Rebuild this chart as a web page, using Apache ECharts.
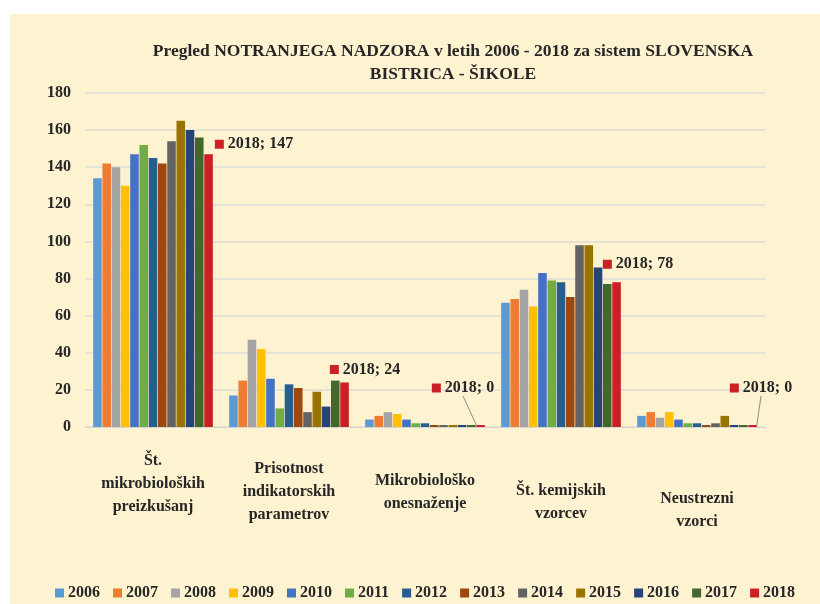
<!DOCTYPE html>
<html>
<head>
<meta charset="utf-8">
<script src="https://cdn.jsdelivr.net/npm/echarts@6/dist/echarts.min.js"></script>
<style>
  html, body { margin: 0; padding: 0; background: #fff; }
  #chart { width: 820px; height: 604px; }
</style>
</head>
<body>
<div id="chart"></div>
<script>
// categories (x axis)
const categories = [
  'Št.\nmikrobioloških\npreizkušanj',
  'Prisotnost\nindikatorskih\nparametrov',
  'Mikrobiološko\nonesnaženje',
  'Št. kemijskih\nvzorcev',
  'Neustrezni\nvzorci'
];

const years = ['2006', '2007', '2008', '2009', '2010', '2011', '2012',
  '2013', '2014', '2015', '2016', '2017', '2018'];

// values per year, one per category
const v2006 = [134, 17, 4, 67, 6];
const v2007 = [142, 25, 6, 69, 8];
const v2008 = [140, 47, 8, 74, 5];
const v2009 = [130, 42, 7, 65, 8];
const v2010 = [147, 26, 4, 83, 4];
const v2011 = [152, 10, 2, 79, 2];
const v2012 = [145, 23, 2, 78, 2];
const v2013 = [142, 21, 1, 70, 1];
const v2014 = [154, 8, 1, 98, 2];
const v2015 = [165, 19, 1, 98, 6];
const v2016 = [160, 11, 1, 86, 1];
const v2017 = [156, 25, 1, 77, 1];
const v2018 = [147, 24, 0, 78, 0];

const yearValues = [v2006, v2007, v2008, v2009, v2010, v2011, v2012,
  v2013, v2014, v2015, v2016, v2017, v2018];

const colors = ['#5B9BD5', '#ED7D31', '#A5A5A5', '#FFC000', '#4472C4', '#70AD47',
  '#255E91', '#9E480E', '#636363', '#997300', '#264478', '#43682B', '#CC1F26'];

const serif = '"Liberation Serif", "DejaVu Serif", serif';
const textColor = '#262626';

// label placement for the 2018 data labels, relative to the bar's top-right corner
const labelShift = [[2, -10], [-19, -13], [-53, -37], [-18, -18], [-27, -37]];
// extra space above each category label (the picture is drawn in perspective)
const catSpace = [8, 16, 28, 38, 46];

const chart = echarts.init(document.getElementById('chart'));

const series = years.map((y, si) => {
  const s = {
    name: y,
    type: 'bar',
    barGap: '8%',
    barCategoryGap: '12%',
    barMinHeight: 2,
    itemStyle: { color: colors[si] },
    data: yearValues[si]
  };
  if (y === '2018') {
    s.data = yearValues[si].map((v, i) => ({
      value: v,
      labelLine: { show: i === 2 || i === 4 }
    }));
    s.label = {
      show: true,
      fontFamily: serif,
      fontWeight: 'bold',
      fontSize: 16,
      color: textColor,
      formatter: p => '{sq|}{t| ' + y + '; ' + p.value + '}',
      rich: {
        sq: { backgroundColor: colors[si], width: 9, height: 9 },
        t: { fontFamily: serif, fontWeight: 'bold', fontSize: 16, color: textColor }
      }
    };
    s.labelLine = { show: false, lineStyle: { color: '#8c8c8c', width: 1 } };
    s.labelLayout = p => {
      const sh = labelShift[p.dataIndex];
      return {
        x: p.rect.x + p.rect.width + sh[0],
        y: p.rect.y + sh[1],
        align: 'left',
        verticalAlign: 'middle'
      };
    };
  }
  return s;
});

const rich = { t: { fontFamily: serif, fontWeight: 'bold', fontSize: 16, color: textColor, lineHeight: 23 } };
catSpace.forEach((h, i) => { rich['s' + i] = { lineHeight: h, fontSize: 4 }; });

const option = {
  backgroundColor: '#ffffff',
  animation: false,
  color: colors,
  graphic: [{
    type: 'rect',
    z: -10,
    silent: true,
    shape: { x: 10, y: 14, width: 810, height: 590 },
    style: { fill: '#FEF3D0' }
  }],
  title: {
    text: 'Pregled NOTRANJEGA NADZORA v letih 2006 - 2018 za sistem SLOVENSKA\nBISTRICA - ŠIKOLE',
    left: 448,
    top: 35,
    textAlign: 'center',
    textStyle: {
      fontFamily: serif,
      fontWeight: 'bold',
      fontSize: 17.5,
      lineHeight: 23,
      color: textColor
    }
  },
  legend: {
    data: years,
    left: 50,
    top: 580,
    icon: 'rect',
    itemWidth: 9,
    itemHeight: 9,
    itemGap: 13,
    textStyle: { fontFamily: serif, fontWeight: 'bold', fontSize: 16, color: textColor, padding: [0, 0, 0, -1] }
  },
  grid: { left: 85, right: 55, top: 93, bottom: 177 },
  xAxis: {
    type: 'category',
    data: categories,
    axisLine: { lineStyle: { color: '#d4d4d0' } },
    axisTick: { show: false },
    axisLabel: {
      margin: 14,
      interval: 0,
      verticalAlign: 'top',
      formatter: (value, index) => {
        const lines = value.split('\n').map(l => '{t|' + l + '}');
        return '{s' + index + '| }\n' + lines.join('\n');
      },
      rich: rich
    }
  },
  yAxis: {
    type: 'value',
    min: 0,
    max: 180,
    interval: 20,
    axisLine: { show: false },
    axisTick: { show: false },
    splitLine: { lineStyle: { color: '#dcdcd8', width: 1.5 } },
    axisLabel: {
      margin: 14,
      fontFamily: serif,
      fontWeight: 'bold',
      fontSize: 16,
      color: textColor
    }
  },
  series: series
};

chart.setOption(option);
</script>
</body>
</html>
